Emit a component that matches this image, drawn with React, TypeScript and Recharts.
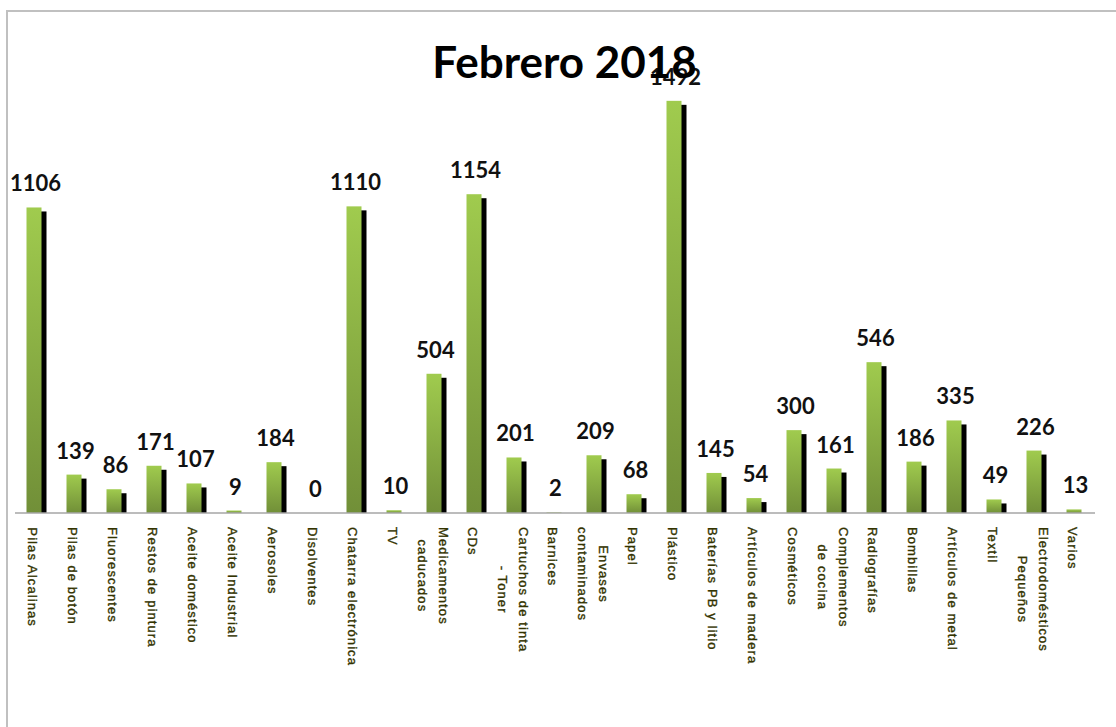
import React from "react";
import { Bar, BarChart, LabelList, XAxis, YAxis } from "recharts";

/** Febrero 2018 — barras verdes con sombra negra, etiquetas verticales. */

const categories = [
  "Pilas Alcalinas",
  "Pilas de botón",
  "Fluorescentes",
  "Restos de pintura",
  "Aceite doméstico",
  "Aceite Industrial",
  "Aerosoles",
  "Disolventes",
  "Chatarra electrónica",
  "TV",
  "Medicamentos\ncaducados",
  "CDs",
  "Cartuchos de tinta\n- Toner",
  "Barnices",
  "Envases\ncontaminados",
  "Papel",
  "Plástico",
  "Baterías PB y litio",
  "Artículos de madera",
  "Cosméticos",
  "Complementos\nde cocina",
  "Radiografías",
  "Bombillas",
  "Artículos de metal",
  "Textil",
  "Electrodomésticos\nPequeños",
  "Varios",
];

const values = [
  1106, 139, 86, 171, 107, 9, 184, 0, 1110, 10, 504, 1154, 201, 2, 209, 68, 1492, 145, 54, 300,
  161, 546, 186, 335, 49, 226, 13,
];

const title = "Febrero 2018";

const data = categories.map((name, i) => ({ name, value: values[i] }));

const TICK_FONT = "13px 'Liberation Sans', Arial, sans-serif";
const TICK_SPACING = 1.1;

let measureCtx: CanvasRenderingContext2D | null = null;
function textWidth(s: string) {
  if (!measureCtx) measureCtx = document.createElement("canvas").getContext("2d");
  if (!measureCtx) return s.length * 7;
  measureCtx.font = TICK_FONT;
  return measureCtx.measureText(s).width + s.length * TICK_SPACING;
}

function ShadowBar(props: any) {
  const { x, y, width, height } = props;
  if (!height || height <= 0) return null;
  const gx = x - 1.5;
  const shadowH = height - 4;
  return (
    <g>
      {shadowH > 0 && <rect x={gx + 5} y={y + 4} width={width} height={shadowH} fill="#000" />}
      <rect x={gx} y={y} width={width} height={height} fill="url(#greenBar)" />
    </g>
  );
}

function ValueLabel(props: any) {
  const { x, y, width, value } = props;
  return (
    <text
      x={x + width / 2}
      y={y - 16}
      textAnchor="middle"
      fill="#111"
      style={{ font: "700 22px Lato, 'Open Sans', sans-serif" }}
    >
      {value}
    </text>
  );
}

function CategoryTick(props: any) {
  const { x, y, payload } = props;
  const lines = String(payload.value).split("\n");
  const maxW = Math.max(...lines.map(textWidth));
  const top = y;
  const cx = x - 2.5;
  return (
    <g>
      {lines.map((line, i) => {
        const lx = cx + ((lines.length - 1) / 2 - i) * 21;
        return (
          <text
            key={i}
            transform={`translate(${lx},${top + maxW / 2}) rotate(90)`}
            textAnchor="middle"
            dominantBaseline="central"
            fill="#333300"
            stroke="#333300"
            strokeWidth={0.35}
            style={{ font: TICK_FONT, letterSpacing: TICK_SPACING }}
          >
            {line}
          </text>
        );
      })}
    </g>
  );
}

export default function App() {
  return (
    <div
      style={{
        position: "absolute",
        left: 0,
        top: 0,
        width: 1116,
        height: 727,
        overflow: "hidden",
        background: "#fff",
      }}
    >
      <div
        style={{
          position: "absolute",
          left: 6,
          top: 10,
          width: 2000,
          height: 2000,
          borderLeft: "2px solid #c0c0c0",
          borderTop: "2px solid #c0c0c0",
        }}
      />
      <div style={{ position: "absolute", left: 0, top: 0 }}>
        <BarChart
          width={1116}
          height={727}
          data={data}
          margin={{ top: 71, right: 21, left: 15, bottom: 0 }}
          barSize={15}
        >
          <defs>
            <linearGradient id="greenBar" x1="0" y1="0" x2="0" y2="1">
              <stop offset="0%" stopColor="#a0cb4e" />
              <stop offset="100%" stopColor="#718f38" />
            </linearGradient>
          </defs>
          <XAxis
            dataKey="name"
            interval={0}
            height={214}
            tickLine={false}
            tickSize={0}
            tickMargin={14}
            axisLine={{ stroke: "#a6a6a6", strokeWidth: 1.5 }}
            tick={<CategoryTick />}
          />
          <YAxis hide domain={[0, 1600]} />
          <Bar dataKey="value" shape={<ShadowBar />} isAnimationActive={false}>
            <LabelList dataKey="value" content={<ValueLabel />} />
          </Bar>
        </BarChart>
      </div>
      <svg
        width={1116}
        height={727}
        style={{ position: "absolute", left: 0, top: 0, pointerEvents: "none" }}
      >
        <text
          x={564.5}
          y={78}
          textAnchor="middle"
          fill="#000"
          style={{ font: "700 44px Lato, 'Open Sans', sans-serif" }}
        >
          {title}
        </text>
      </svg>
    </div>
  );
}
